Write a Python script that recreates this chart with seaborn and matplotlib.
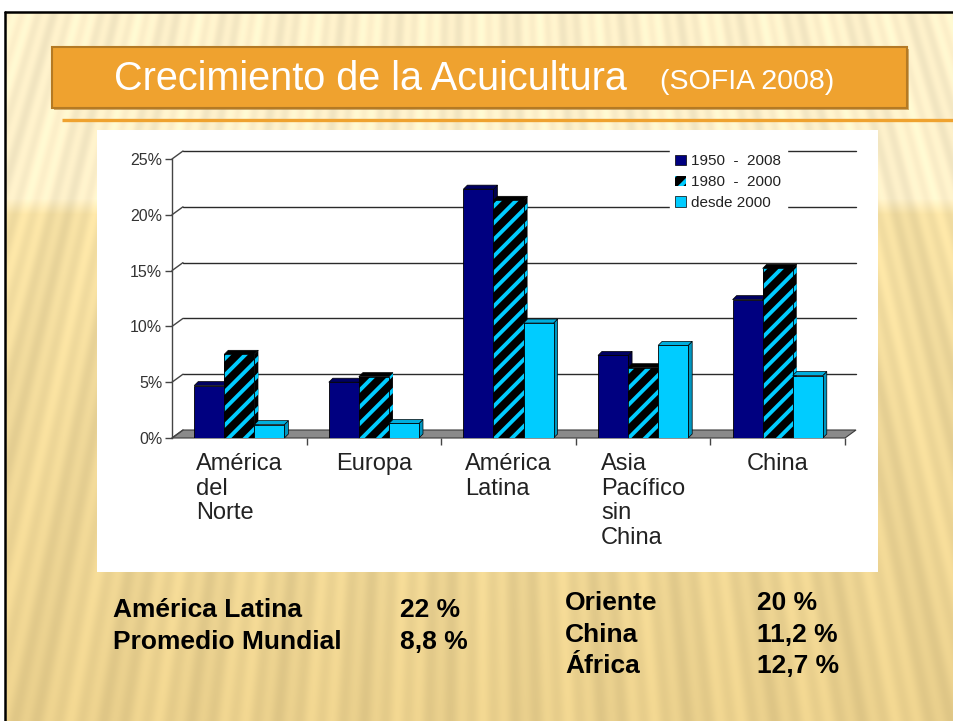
import numpy as np
import pandas as pd
import matplotlib
matplotlib.use("Agg")
import matplotlib.pyplot as plt
import seaborn as sns
from matplotlib.patches import Polygon, Rectangle, Patch
from matplotlib.lines import Line2D
from matplotlib.transforms import IdentityTransform

# ---------------- data ----------------
categories = ["América\ndel\nNorte", "Europa", "América\nLatina",
              "Asia\nPacífico\nsin\nChina", "China"]
series = ["1950  -  2008", "1980  -  2000", "desde 2000"]
v_1950_2008 = [4.7, 5.0, 22.3, 7.4, 12.4]
v_1980_2000 = [7.5, 5.5, 21.3, 6.3, 15.2]
v_desde_2000 = [1.2, 1.3, 10.3, 8.3, 5.6]
y_ticks = [0, 5, 10, 15, 20, 25]
y_tick_labels = ["0%", "5%", "10%", "15%", "20%", "25%"]

title_main = "Crecimiento de la Acuicultura"
title_sub = "(SOFIA 2008)"
left_labels = ["América Latina", "Promedio Mundial"]
left_values = ["22 %", "8,8 %"]
right_labels = ["Oriente", "China", "África"]
right_values = ["20 %", "11,2 %", "12,7 %"]

NAVY = "#000080"
BLACK = "#000000"
CYAN = "#00CCFF"
ORANGE = "#EFA22F"

df = pd.DataFrame({
    "region": categories * 3,
    "serie": [series[0]] * 5 + [series[1]] * 5 + [series[2]] * 5,
    "value": v_1950_2008 + v_1980_2000 + v_desde_2000,
})

# ---------------- figure ----------------
sns.set_style("white")
plt.rcParams["font.family"] = ["Liberation Sans", "DejaVu Sans"]
plt.rcParams["hatch.linewidth"] = 2.8

W, H = 954, 721
fig = plt.figure(figsize=(W / 100, H / 100), dpi=100)


def fx(x):
    return x / W


def fy(y):
    return 1 - y / H


# background
bg = fig.add_axes([0, 0, 1, 1])
yy, xx = np.mgrid[0:H, 0:W].astype(float)
top = np.array([253, 240, 202]) / 255
mid = np.array([244, 223, 163]) / 255
bot = np.array([233, 207, 140]) / 255
t1 = np.clip((yy - 198) / 16, 0, 1)[..., None]
t2 = np.clip((yy - 210) / 500, 0, 1)[..., None]
base = top * (1 - t1) + (mid * (1 - t2) + bot * t2) * t1
phi = np.arctan2(xx - 477, yy + 1500)
mod = 1 + 0.025 * np.sin(phi * 650) + 0.022 * np.sin(phi * 170 + 1.0)
img = np.clip(base * mod[..., None], 0, 1)
img[:12, :] = 1
img[:, :5] = 1
bg.imshow(img, extent=[0, W, H, 0], aspect="auto", interpolation="bilinear")
bg.set_xlim(0, W)
bg.set_ylim(H, 0)
bg.axis("off")
bg.plot([5, W], [12, 12], color="black", lw=1.8)
bg.plot([5, 5], [12, H], color="black", lw=1.8)

# title box
bg.add_patch(Rectangle((54, 49), 855, 61, facecolor="#B07A2A", edgecolor="none", alpha=0.6))
bg.add_patch(Rectangle((52, 47), 855, 61, facecolor=ORANGE, edgecolor="#B47A24", lw=1.5))
bg.text(114, 79, title_main, color="white", fontsize=28.5, va="center", ha="left")
bg.text(660, 82, title_sub, color="white", fontsize=20.5, va="center", ha="left")
bg.plot([62, W], [120, 120], color=ORANGE, lw=2.4, solid_capstyle="butt")

# white panel
bg.add_patch(Rectangle((97, 130), 781, 442, facecolor="white", edgecolor="none"))

# bottom texts
for i, (lab, val) in enumerate(zip(left_labels, left_values)):
    bg.text(113, 610 + i * 32, lab, fontsize=19, fontweight="bold", va="center", color="black")
    bg.text(400, 610 + i * 32, val, fontsize=19, fontweight="bold", va="center", color="black")
for i, (lab, val) in enumerate(zip(right_labels, right_values)):
    bg.text(565, 603 + i * 31.5, lab, fontsize=19, fontweight="bold", va="center", color="black")
    bg.text(757, 603 + i * 31.5, val, fontsize=19, fontweight="bold", va="center", color="black")

# ---------------- chart ----------------
ax = fig.add_axes([fx(172), fy(438), (845 - 172) / W, (438 - 159) / H])
ax.patch.set_alpha(0)
sns.barplot(data=df, x="region", y="value", hue="serie", order=categories,
            hue_order=series, palette=[NAVY, BLACK, CYAN], saturation=1,
            width=0.67, edgecolor="black", linewidth=0.6, legend=False, ax=ax)
ax.set_xlim(-0.5, 4.5)
ax.set_ylim(0, 25)
ax.set_xlabel("")
ax.set_ylabel("")
for s in ["top", "right", "bottom"]:
    ax.spines[s].set_visible(False)
ax.spines["left"].set_color("#444444")
ax.spines["left"].set_linewidth(1.0)

ax.set_yticks(y_ticks)
ax.set_yticklabels(y_tick_labels)
ax.tick_params(axis="y", direction="out", length=5, width=1, color="#444444",
               labelsize=11.5, labelcolor="#333333", pad=2, left=True)
ax.set_xticks(range(len(categories)))
ax.set_xticklabels(categories)
ax.tick_params(axis="x", length=0, pad=11, labelsize=17, labelcolor="#222222")
for lbl in ax.get_xticklabels():
    lbl.set_multialignment("left")
    lbl.set_linespacing(1.15)
ax.set_xticks([k - 0.5 for k in range(1, 6)], minor=True)
ax.tick_params(axis="x", which="minor", direction="out", length=5, width=1,
               color="#444444", bottom=True)

fig.canvas.draw()
T = ax.transData
DX, DY = 11, 8


def disp(x, y):
    return T.transform((x, y))


# floor
fl0 = disp(-0.5, 0)
fr0 = disp(4.5, 0)
floor = Polygon([fl0, fr0, fr0 + [DX, DY], fl0 + [DX, DY]], closed=True,
                facecolor="#8A8A8A", edgecolor="#3A3A3A", lw=0.8,
                transform=IdentityTransform(), zorder=1.2, clip_on=False)
ax.add_patch(floor)

# back-wall gridlines and slanted connectors
for v in y_ticks:
    a = disp(-0.5, v)
    b = disp(4.5, v)
    if v > 0:
        ax.add_line(Line2D([a[0] + DX, b[0] + DX], [a[1] + DY, b[1] + DY], color="#2A2A2A",
                           lw=1.0, transform=IdentityTransform(), zorder=1.0, clip_on=False))
    ax.add_line(Line2D([a[0], a[0] + DX], [a[1], a[1] + DY], color="#444444",
                       lw=1.0, transform=IdentityTransform(), zorder=1.3, clip_on=False))

# 3D bar faces
side_cols = ["#00004C", BLACK, "#0096C0"]
top_cols = ["#000060", BLACK, "#00AEDD"]
bd = 4
for si, cont in enumerate(ax.containers):
    for bar in cont:
        x0 = bar.get_x()
        x1 = x0 + bar.get_width()
        h = bar.get_height()
        p10 = disp(x1, 0)
        p1h = disp(x1, h)
        p0h = disp(x0, h)
        z = 3 + si * 0.3
        bar.set_zorder(z)
        if si == 1:
            bar.set_hatch("//")
            bar.set_edgecolor(CYAN)
            bar.set_linewidth(0)
            ax.add_patch(Rectangle((x0, 0), x1 - x0, h, facecolor="none", edgecolor="black",
                                   lw=0.6, zorder=z + 0.01))
        side = Polygon([p10, p10 + [bd, bd], p1h + [bd, bd], p1h], closed=True,
                       facecolor=side_cols[si], edgecolor="black", lw=0.5,
                       hatch="//" if si == 1 else None,
                       transform=IdentityTransform(), zorder=z - 0.1, clip_on=False)
        if si == 1:
            side.set_edgecolor(CYAN)
            side.set_linewidth(0)
        topf = Polygon([p0h, p0h + [bd, bd], p1h + [bd, bd], p1h], closed=True,
                       facecolor=top_cols[si], edgecolor="black", lw=0.5,
                       transform=IdentityTransform(), zorder=z - 0.1, clip_on=False)
        ax.add_patch(side)
        ax.add_patch(topf)

# legend
handles = [
    Patch(facecolor=NAVY, edgecolor="black", lw=0.5),
    Patch(facecolor=BLACK, edgecolor=CYAN, hatch="//", lw=0),
    Patch(facecolor=CYAN, edgecolor="black", lw=0.5),
]
leg = ax.legend(handles, series, loc="upper left",
                bbox_to_anchor=(fx(670), fy(149)), bbox_transform=fig.transFigure,
                frameon=True, fancybox=False, framealpha=1, edgecolor="white",
                fontsize=11, handlelength=0.7, handleheight=0.7, handletextpad=0.35,
                labelspacing=0.45, borderpad=0.35, borderaxespad=0)
leg.set_zorder(10)
for t in leg.get_texts():
    t.set_color("#222222")

fig.savefig("out.png", dpi=100)
